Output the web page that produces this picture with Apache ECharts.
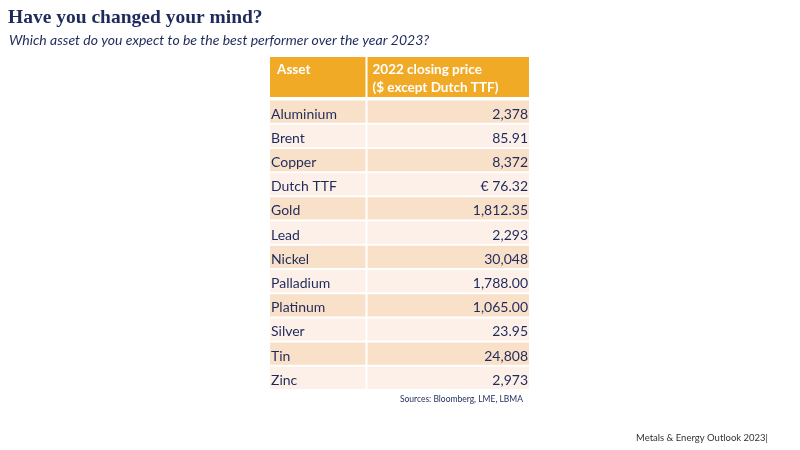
<!DOCTYPE html>
<html>
<head>
<meta charset="utf-8">
<style>html,body{margin:0;padding:0;background:#fff}#c{width:800px;height:450px}</style>
<script src="https://cdn.jsdelivr.net/npm/echarts@6/dist/echarts.min.js"></script>
</head>
<body>
<div id="c"></div>
<script>
var assets = ['Aluminium','Brent','Copper','Dutch TTF','Gold','Lead','Nickel','Palladium','Platinum','Silver','Tin','Zinc'];
var prices = ['2,378','85.91','8,372','€ 76.32','1,812.35','2,293','30,048','1,788.00','1,065.00','23.95','24,808','2,973'];
var headers = ['Asset', '2022 closing price\n($ except Dutch TTF)'];

var NAVY = '#1f2a5c';
var ORANGE = '#f0aa26';
var DARK = '#f9e0c9';
var LIGHT = '#fcf0e8';
var SPLIT = 0.3726;
var FONT = 'Lato, "Open Sans", sans-serif';

var chart = echarts.init(document.getElementById('c'));
chart.setOption({
  animation: false,
  title: [
    {text: 'Have you changed your mind?', left: 3, top: 3,
     textStyle: {fontFamily: '"Liberation Serif", serif', fontWeight: 'bold', fontSize: 19.5, color: NAVY}},
    {text: 'Which asset do you expect to be the best performer over the year 2023?', left: 4, top: 28,
     textStyle: {fontFamily: FONT, fontStyle: 'italic', fontWeight: 'normal', fontSize: 14, color: NAVY}},
    {text: 'Sources: Bloomberg, LME, LBMA', right: 277, top: 394.5, padding: 0,
     textStyle: {fontFamily: FONT, fontWeight: 'normal', fontSize: 8.5, color: NAVY}},
    {text: 'Metals & Energy Outlook 2023|', left: 636, top: 433, padding: 0,
     textStyle: {fontFamily: FONT, fontWeight: 'normal', fontSize: 9.5, color: '#333'}}
  ],
  grid: {left: 270, top: 99.5, width: 259, height: 290.5},
  xAxis: {type: 'value', min: 0, max: 1, show: false},
  yAxis: {type: 'category', data: assets, inverse: true, show: false},
  series: [
    {
      type: 'custom',
      data: assets.map(function (a, i) { return [0, i]; }),
      encode: {x: 0, y: 1},
      renderItem: function (params, api) {
        var idx = api.value(1);
        var c = api.coord([0, idx]);
        var xs = api.coord([SPLIT, idx])[0];
        var xe = api.coord([1, idx])[0];
        var h = api.size([0, 1])[1];
        var top = c[1] - h / 2;
        var fill = idx % 2 === 0 ? DARK : LIGHT;
        var ty = c[1] + 2.5;
        return {
          type: 'group',
          children: [
            {type: 'rect', shape: {x: c[0], y: top + 1, width: xs - c[0] - 1, height: h - 2}, style: {fill: fill}},
            {type: 'rect', shape: {x: xs + 1, y: top + 1, width: xe - xs - 1, height: h - 2}, style: {fill: fill}},
            {type: 'text', x: c[0] + 1, y: ty, style: {text: assets[idx], fill: NAVY, font: '14px ' + FONT, align: 'left', verticalAlign: 'middle'}},
            {type: 'text', x: xe - 1, y: ty, style: {text: prices[idx], fill: NAVY, font: '14px ' + FONT, align: 'right', verticalAlign: 'middle'}}
          ]
        };
      }
    },
    {
      type: 'custom',
      data: [[0, 0]],
      encode: {x: 0, y: 1},
      renderItem: function (params, api) {
        var cs = params.coordSys;
        var xs = api.coord([SPLIT, 0])[0];
        var top = cs.y - 42.5, h = 40;
        return {
          type: 'group',
          children: [
            {type: 'rect', shape: {x: cs.x, y: top, width: xs - cs.x - 1, height: h}, style: {fill: ORANGE}},
            {type: 'rect', shape: {x: xs + 1, y: top, width: cs.x + cs.width - xs - 1, height: h}, style: {fill: ORANGE}},
            {type: 'text', x: cs.x + 7, y: top + 4, style: {text: headers[0], fill: '#fff', font: 'bold 13.5px ' + FONT, align: 'left', verticalAlign: 'top', lineHeight: 18}},
            {type: 'text', x: xs + 6, y: top + 4, style: {text: headers[1], fill: '#fff', font: 'bold 13.5px ' + FONT, align: 'left', verticalAlign: 'top', lineHeight: 18}}
          ]
        };
      }
    }
  ]
});
</script>
</body>
</html>
